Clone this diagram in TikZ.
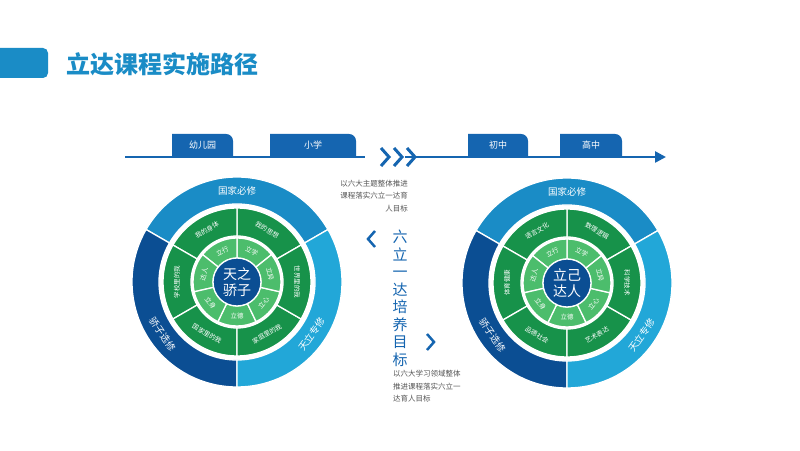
\documentclass[tikz,border=0pt]{standalone}
\usepackage{fontspec}
\setmainfont{Noto Sans CJK SC}
\usetikzlibrary{arrows.meta}
\definecolor{tblue}{HTML}{1A8CC6}
\definecolor{dblue}{HTML}{0B4E93}
\definecolor{lblue}{HTML}{22A7D8}
\definecolor{lineblue}{HTML}{1565B0}
\definecolor{gdark}{HTML}{17924A}
\definecolor{glight}{HTML}{4CBD6C}
\definecolor{txtgray}{HTML}{555555}
\newcommand\sect[5]{\fill[#5,draw=white,line width=1.3pt] (#1:#3pt) arc[start angle=#1,end angle=#2,radius=#3pt] -- (#2:#4pt) arc[start angle=#2,end angle=#1,radius=#4pt] -- cycle;}
\newcommand\mywheel[9]{%
 \fill[white] (0,0) circle[radius=108pt];
 \sect{30}{150}{105}{78}{tblue}
 \sect{150}{270}{105}{78}{dblue}
 \sect{-90}{30}{105}{78}{lblue}
 \foreach \a in {30,90,...,330}{\sect{\a}{\a+60}{74}{46}{gdark}}
 \foreach \a in {0,...,6}{\pgfmathsetmacro\b{244.3+51.43*\a}\sect{\b}{\b+51.43}{44}{24}{glight}}
 \fill[dblue,draw=white,line width=1.3pt] (0,0) circle[radius=24pt];
 \node[ctr] (#1c) at (0,0) {#2};
 \node[olab] (#1o1) at (90:91pt) {国家必修};
 \node[olab,rotate=-55] (#1o2) at (215:91pt) {骄子选修};
 \node[olab,rotate=55] (#1o3) at (-35:91pt) {天立专修};
 \node[glab,rotate=30] (#1g1) at (120:60pt) {#3};
 \node[glab,rotate=-30] (#1g2) at (60:60pt) {#4};
 \node[glab,rotate=-90] (#1g3) at (0:60pt) {#5};
 \node[glab,rotate=30] (#1g4) at (-60:60pt) {#6};
 \node[glab,rotate=-30] (#1g5) at (240:60pt) {#7};
 \node[glab,rotate=90] (#1g6) at (180:60pt) {#8};
 \node[ilab] (#1i1) at (270:34pt) {立德};
 \node[ilab,rotate=51] (#1i2) at (321.4:34pt) {立心};
 \node[ilab,rotate=-77] (#1i3) at (12.9:34pt) {立异};
 \node[ilab,rotate=-26] (#1i4) at (64.3:34pt) {立学};
 \node[ilab,rotate=26] (#1i5) at (115.7:34pt) {立行};
 \node[ilab,rotate=77] (#1i6) at (167.1:34pt) {达人};
 \node[ilab,rotate=-51] (#1i7) at (218.6:34pt) {立身};
}
\begin{document}
\begin{tikzpicture}[x=1pt,y=1pt,
 ctr/.style={text=white,font=\fontsize{14}{15.5}\selectfont,align=center,inner sep=0},
 olab/.style={text=white,font=\fontsize{9.5}{10}\selectfont,inner sep=0},
 glab/.style={text=white,font=\fontsize{6.5}{7}\selectfont,inner sep=0},
 ilab/.style={text=white,font=\fontsize{6.5}{7}\selectfont,inner sep=0},
 tab/.style={fill=lineblue},
 tabt/.style={text=white,font=\fontsize{9}{10}\selectfont,inner sep=0},
 note/.style={text=txtgray,font=\fontsize{7.5}{12.5}\selectfont,inner sep=0},
 chev/.style={draw=lineblue,line width=3pt,line cap=butt,line join=miter}]
\useasboundingbox (0,0) rectangle (800,450);
\fill[white] (0,0) rectangle (800,450);
% title
\fill[tblue,rounded corners=5pt] (-10,372) rectangle (48,402);
\node[anchor=west,text=tblue,font=\fontsize{24}{26}\selectfont\bfseries,inner sep=0] (title) at (66,386) {立达课程实施路径};
% timelines
\coordinate (l1) at (125,293); \coordinate (l2) at (365,293);
\coordinate (r1) at (405,293); \coordinate (r2) at (666,293);
\draw[lineblue,line width=2.5pt] (l1) -- (l2);
\draw[lineblue,line width=2.5pt,-{Triangle[length=11pt,width=11pt]}] (r1) -- (r2);
\foreach \x/\w/\t/\n in {172/61/幼儿园/t1,270/86/小学/t2,468/60/初中/t3,560/62/高中/t4}{
 \fill[tab] (\x,293) -- (\x,316) -- (\x+\w-7,316) to[out=0,in=90] (\x+\w,309) -- (\x+\w,293) -- cycle;
 \node[tabt] (\n) at (\x+\w/2,305) {\t};}
% chevrons
\foreach \x in {381,394,407}{\draw[chev] (\x,302) -- (\x+8,293) -- (\x,284);}
% wheels
\begin{scope}[shift={(237,168)}]
\mywheel{L}{天之\\骄子}{我的身体}{我的思想}{世界里的我}{家庭里的我}{国家里的我}{学校里的我}{}
\end{scope}
\begin{scope}[shift={(567,167)}]
\mywheel{R}{立己\\达人}{语言文化}{数理逻辑}{科学技术}{艺术表达}{品德社会}{体育健康}{}
\end{scope}
% center text
\node[note,align=right,anchor=north east] (n1) at (408,270) {以六大主题整体推进\\课程落实六立一达育\\人目标};
\draw[chev,line width=2.5pt] (375,219) -- (368,211) -- (375,203);
\node[text=lineblue,font=\fontsize{15}{17.5}\selectfont,align=center,inner sep=0,anchor=north] (v) at (400,220) {六\\立\\一\\达\\培\\养\\目\\标};
\draw[chev,line width=2.5pt] (427,116) -- (434,108) -- (427,100);
\node[note,align=left,anchor=north west] (n2) at (393,80) {以六大学习领域整体\\推进课程落实六立一\\达育人目标};
\end{tikzpicture}
\end{document}
